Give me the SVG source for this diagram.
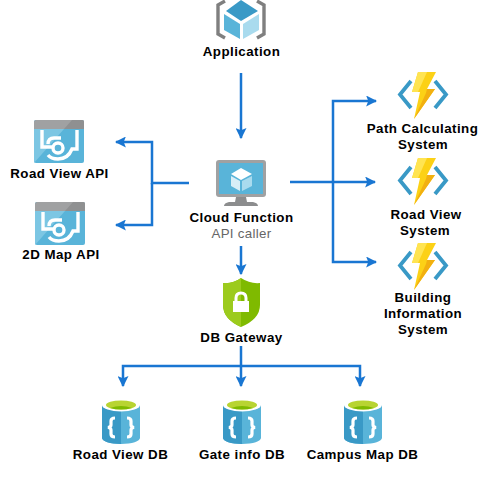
<svg xmlns="http://www.w3.org/2000/svg" width="487" height="484" viewBox="0 0 487 484">
<style>
text{font-family:"Liberation Sans",Arial,sans-serif;font-size:13.33px;font-weight:bold;text-anchor:middle;fill:#000;letter-spacing:.45px}
.sub{font-weight:normal;fill:#666;letter-spacing:.3px}
.c{fill:none;stroke:#1976d2;stroke-width:2.5}
</style>
<defs>
<marker id="a" viewBox="0 0 10 10" refX="9" refY="5" markerWidth="11" markerHeight="11" markerUnits="userSpaceOnUse" orient="auto"><path d="M0 0L10 5L0 10L2 5Z" fill="#1976d2"/></marker>
<g id="api">
<rect x="0" y="0" width="50" height="43" rx="2" fill="#59b4d9"/>
<path d="M0 43L30 9H0Z" fill="#7cc6e3"/>
<path d="M2 0H48Q50 0 50 2V9H0V2Q0 0 2 0Z" fill="#a0a1a2"/>
<path d="M30 9H50V2Q50 0 48 0H38Z" fill="#8f9091"/>
<path d="M8 10V27H18M27 18H20Q14 18 14 24M14 35Q17 39 24 39Q34 39 38 29H43V10" fill="none" stroke="#fff" stroke-width="3.4"/>
<circle cx="24" cy="28" r="5" fill="none" stroke="#fff" stroke-width="3.4"/>
</g>
<g id="fn">
<path d="M13 9L2 22.500L13 36" fill="none" stroke="#3999c6" stroke-width="3.8"/>
<path d="M37 9L48 22.500L37 36" fill="none" stroke="#3999c6" stroke-width="3.8"/>
<path d="M20 0H38L29 17H37L16 47L22 20H14Z" fill="#fcd116"/>
<path d="M20 0H29L20 20H14Z" fill="#ffe452"/>
<path d="M29 17H37L16 47L28 21Z" fill="#f2b010"/>
</g>
<g id="db">
<path d="M0 9V42C0 45 8 48 19 48S38 45 38 42V9Z" fill="#59b4d9"/>
<path d="M0 9V42C0 45 8 48 19 48V14C8 14 0 12 0 9Z" fill="#3999c6"/>
<ellipse cx="19" cy="9" rx="19" ry="6.500" fill="#fff"/>
<ellipse cx="19" cy="9" rx="15" ry="4.500" fill="#b8d432"/>
<path d="M8 12Q19 8 30 12Q19 15 8 12Z" fill="#7fba00"/>
<path d="M13 22Q9 22 9 25V29Q9 31 6 31.500Q9 32 9 34V38Q9 41 13 41" fill="none" stroke="#fff" stroke-width="3.2"/>
<path d="M25 22Q29 22 29 25V29Q29 31 32 31.500Q29 32 29 34V38Q29 41 25 41" fill="none" stroke="#fff" stroke-width="3.2"/>
</g>
</defs>
<g id="connectors">
<path class="c" d="M241 73V138" marker-end="url(#a)"/>
<path class="c" d="M189 183H152V142H116" marker-end="url(#a)"/>
<path class="c" d="M152 183V225H116" marker-end="url(#a)"/>
<path class="c" d="M290 182H375" marker-end="url(#a)"/>
<path class="c" d="M333 182V101H376" marker-end="url(#a)"/>
<path class="c" d="M333 182V262H376" marker-end="url(#a)"/>
<path class="c" d="M241 246V274" marker-end="url(#a)"/>
<path class="c" d="M241 346V386" marker-end="url(#a)"/>
<path class="c" d="M241 366H123V386" marker-end="url(#a)"/>
<path class="c" d="M241 366H360V386" marker-end="url(#a)"/>
</g>
<g id="application">
<path d="M225 1L218 5V34L225 38M257 1L264 5V34L257 38" fill="none" stroke="#7f7f7f" stroke-width="3.4"/>
<path d="M241 0L258 11L241 21L226 11Z" fill="#3999c6"/>
<path d="M224 14L240 24V39L224 30Z" fill="#59b4d9"/>
<path d="M243 24L259 14V30L243 39Z" fill="#a9dbee"/>
<text x="241.500" y="56">Application</text>
</g>
<g id="road-view-api"><use href="#api" x="34" y="120"/><text x="59.500" y="178">Road View API</text></g>
<g id="map-api"><use href="#api" x="35" y="202"/><text x="61" y="259">2D Map API</text></g>
<g id="cloud-function">
<rect x="216" y="160" width="50" height="37" rx="3" fill="#a0a1a2"/>
<rect x="219" y="163" width="44" height="31" fill="#59b4d9"/>
<path d="M236 197H246L247 202H253Q258 203 258 206H224Q224 203 229 202H235Z" fill="#8c8d8e"/>
<path d="M241 168L252 174L241 180L231 174Z" fill="#fff"/>
<path d="M231 176L240 181V191L231 186Z" fill="#d8eef7"/>
<path d="M242 181L252 176V186L242 191Z" fill="#a9dbee"/>
<text x="241.500" y="222">Cloud Function</text>
<text class="sub" x="241.500" y="238">API caller</text>
</g>
<g id="db-gateway">
<path d="M241 278Q250 284 260 283V305Q260 319 241 327Q223 319 223 305V283Q233 284 241 278Z" fill="#7fba00"/>
<path d="M241 278Q233 284 223 283V305Q223 319 241 327Z" fill="#9ccb1d"/>
<rect x="233" y="301" width="16" height="11" fill="#fff"/>
<path d="M236 301V298Q236 293 241 293T246 298V301" fill="none" stroke="#fff" stroke-width="3"/>
<text x="241.500" y="342">DB Gateway</text>
</g>
<g id="path-calculating"><use href="#fn" x="398" y="72"/><text x="422.500" y="133">Path Calculating</text><text x="423" y="149">System</text></g>
<g id="road-view-system"><use href="#fn" x="398" y="158"/><text x="426" y="219">Road View</text><text x="425" y="235">System</text></g>
<g id="building-information"><use href="#fn" x="398" y="243"/><text x="423" y="302">Building</text><text x="423" y="318">Information</text><text x="423" y="334">System</text></g>
<g id="road-view-db"><use href="#db" x="102" y="396"/><text x="120.500" y="459">Road View DB</text></g>
<g id="gate-info-db"><use href="#db" x="223" y="396"/><text x="242" y="459">Gate info DB</text></g>
<g id="campus-map-db"><use href="#db" x="344" y="396"/><text x="362.500" y="459">Campus Map DB</text></g>
</svg>
